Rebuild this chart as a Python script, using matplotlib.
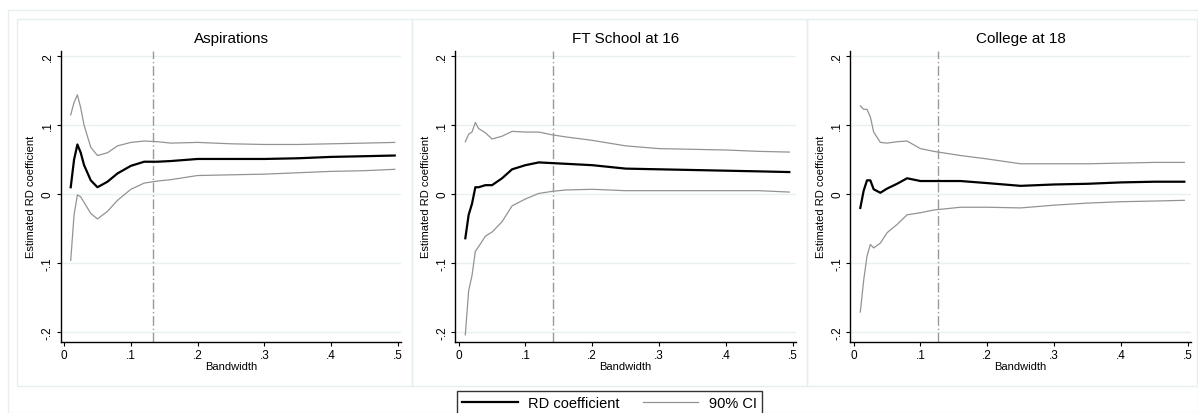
import matplotlib.pyplot as plt
from matplotlib.patches import Rectangle

plt.rcParams['font.family'] = ['Liberation Sans', 'DejaVu Sans']

# bandwidth grid shared by all series
bandwidth = [0.01, 0.015, 0.02, 0.025, 0.03, 0.04, 0.05, 0.065, 0.08, 0.1,
             0.12, 0.14, 0.16, 0.2, 0.25, 0.3, 0.35, 0.4, 0.45, 0.495]

titles = ['Aspirations', 'FT School at 16', 'College at 18']
optimal_bw = [0.133, 0.141, 0.1256]

asp_rd = [0.010, 0.050, 0.072, 0.060, 0.042, 0.020, 0.010, 0.018, 0.030, 0.041,
          0.047, 0.047, 0.048, 0.051, 0.051, 0.051, 0.052, 0.054, 0.055, 0.056]
asp_hi = [0.115, 0.133, 0.144, 0.125, 0.100, 0.068, 0.056, 0.060, 0.070, 0.075,
          0.077, 0.076, 0.074, 0.075, 0.073, 0.072, 0.072, 0.073, 0.074, 0.075]
asp_lo = [-0.096, -0.030, -0.001, -0.004, -0.012, -0.028, -0.036, -0.025, -0.009, 0.007,
          0.016, 0.019, 0.021, 0.027, 0.028, 0.029, 0.031, 0.033, 0.034, 0.036]

ft_rd = [-0.064, -0.030, -0.014, 0.010, 0.010, 0.013, 0.013, 0.023, 0.036, 0.042,
         0.046, 0.045, 0.044, 0.042, 0.037, 0.036, 0.035, 0.034, 0.033, 0.032]
ft_hi = [0.076, 0.087, 0.090, 0.104, 0.095, 0.089, 0.080, 0.084, 0.091, 0.090,
         0.090, 0.086, 0.083, 0.078, 0.070, 0.066, 0.065, 0.064, 0.062, 0.061]
ft_lo = [-0.204, -0.140, -0.118, -0.083, -0.076, -0.061, -0.055, -0.040, -0.017, -0.007,
         0.001, 0.004, 0.006, 0.007, 0.005, 0.005, 0.005, 0.005, 0.005, 0.003]

col_rd = [-0.020, 0.005, 0.020, 0.020, 0.007, 0.002, 0.008, 0.015, 0.023, 0.019,
          0.019, 0.019, 0.019, 0.016, 0.012, 0.014, 0.015, 0.017, 0.018, 0.018]
col_hi = [0.128, 0.123, 0.123, 0.112, 0.090, 0.075, 0.074, 0.076, 0.077, 0.066,
          0.062, 0.059, 0.056, 0.051, 0.044, 0.044, 0.044, 0.045, 0.046, 0.046]
col_lo = [-0.171, -0.125, -0.090, -0.073, -0.078, -0.071, -0.056, -0.044, -0.030, -0.027,
          -0.023, -0.021, -0.019, -0.019, -0.020, -0.016, -0.013, -0.011, -0.010, -0.009]

rd = [asp_rd, ft_rd, col_rd]
hi = [asp_hi, ft_hi, col_hi]
lo = [asp_lo, ft_lo, col_lo]

W, H = 1198, 414
fig = plt.figure(figsize=(W / 100, H / 100), dpi=100)
fig.patch.set_facecolor('white')

frame_col = '#e6eef0'
fig.add_artist(Rectangle((8 / W, 0), 1 - 8 / W, 1 - 11 / H, transform=fig.transFigure,
                         fill=False, edgecolor=frame_col, lw=1))
for x0, x1 in [(17, 412), (412, 807), (807, 1197)]:
    fig.add_artist(Rectangle((x0 / W, 1 - 387 / H), (x1 - x0) / W, (387 - 20) / H,
                             transform=fig.transFigure, fill=False, edgecolor=frame_col, lw=1))

lefts = [60.7, 455.3, 850.3]
aw, top, bot = 340.7, 51.7, 342.7
grid_col = '#e8f0f2'

for i in range(3):
    ax = fig.add_axes([lefts[i] / W, 1 - bot / H, aw / W, (bot - top) / H])
    ax.set_facecolor('none')
    for yv in [-0.2, -0.1, 0, 0.1, 0.2]:
        ax.axhline(yv, color=grid_col, lw=1, zorder=0)
    l1, = ax.plot(bandwidth, rd[i], color='black', lw=1.6, zorder=3)
    l2, = ax.plot(bandwidth, hi[i], color='#939393', lw=0.9, zorder=2)
    ax.plot(bandwidth, lo[i], color='#939393', lw=0.9, zorder=2)
    ax.axvline(optimal_bw[i], color='#999999', lw=1, dashes=[7, 2, 1, 2], zorder=1)
    ax.set_xlim(-0.005, 0.505)
    ax.set_ylim(-0.214, 0.208)
    ax.set_xticks([0, 0.1, 0.2, 0.3, 0.4, 0.5])
    ax.set_xticklabels(['0', '.1', '.2', '.3', '.4', '.5'])
    ax.set_yticks([-0.2, -0.1, 0, 0.1, 0.2])
    ax.set_yticklabels(['-.2', '-.1', '0', '.1', '.2'], rotation=90, va='center')
    ax.tick_params(labelsize=8.5, length=3, width=0.8, pad=2)
    for s in ['top', 'right']:
        ax.spines[s].set_visible(False)
    for s in ['left', 'bottom']:
        ax.spines[s].set_linewidth(1)
    ax.set_title(titles[i], fontsize=11, pad=6)
    ax.set_xlabel('Bandwidth', fontsize=8, labelpad=0)
    ax.set_ylabel('Estimated RD coefficient', fontsize=8, labelpad=4)

leg = fig.legend([l1, l2], ['RD coefficient', '90% CI'], ncol=2, loc='upper center',
                 bbox_to_anchor=(609.5 / W, 1 - 391.5 / H), fontsize=10.5, frameon=True,
                 fancybox=False, edgecolor='black', handlelength=3.8, handletextpad=0.7,
                 columnspacing=1.6, borderpad=0.4, borderaxespad=0)
leg.get_frame().set_linewidth(1)

fig.savefig('out.png', dpi=100)
